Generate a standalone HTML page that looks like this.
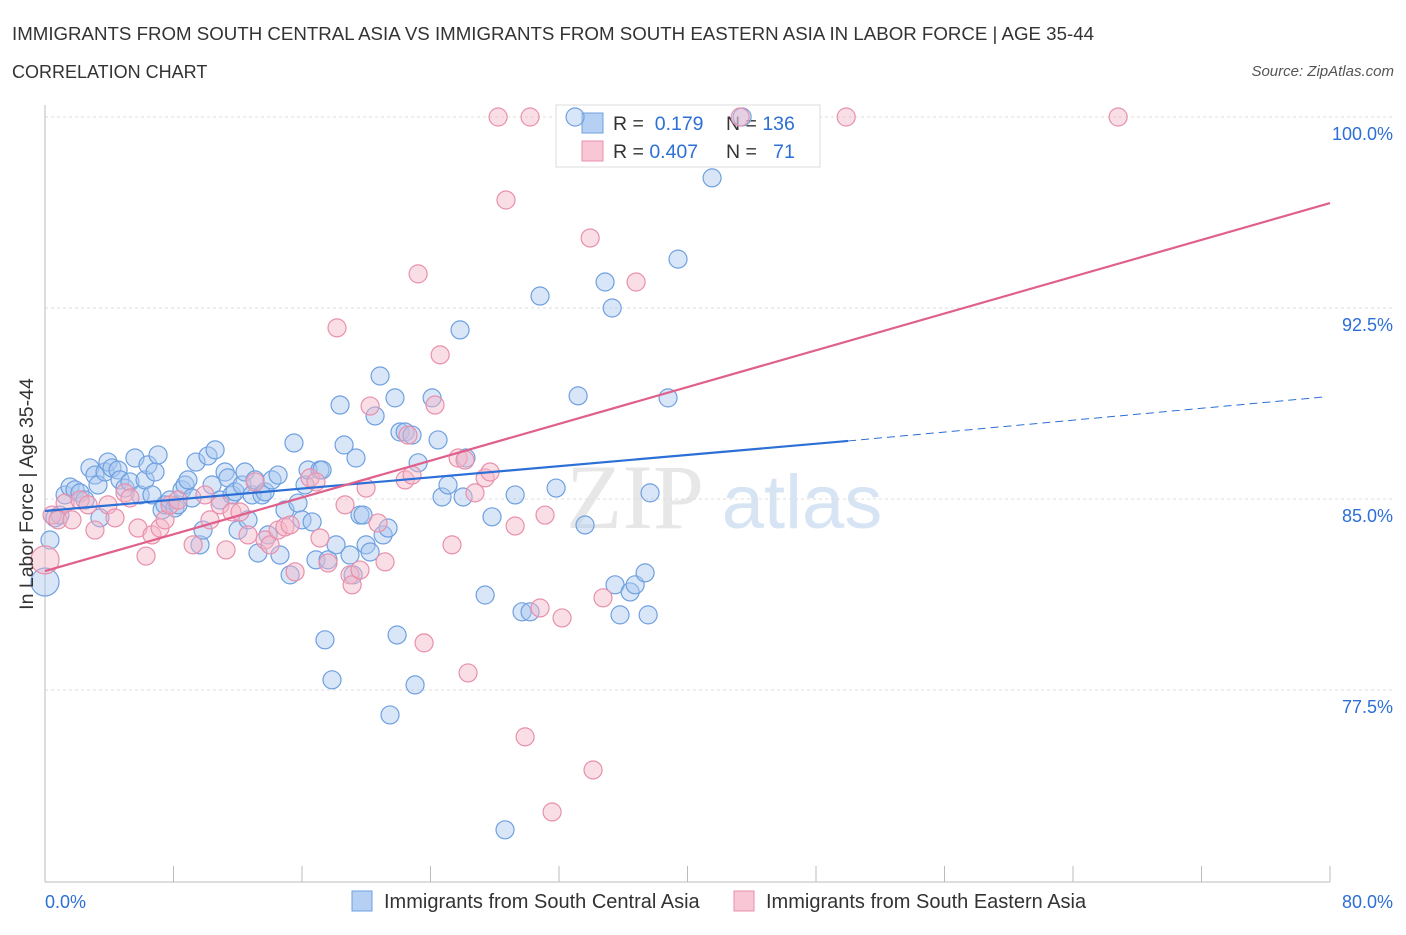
<!DOCTYPE html>
<html><head><meta charset="utf-8">
<style>
html,body{margin:0;padding:0;background:#fff;}
body{width:1406px;height:930px;overflow:hidden;font-family:"Liberation Sans",sans-serif;}
</style></head>
<body>
<svg id="chart" width="1406" height="930" xmlns="http://www.w3.org/2000/svg">
<text x="12" y="40" font-size="18.7" fill="#333">IMMIGRANTS FROM SOUTH CENTRAL ASIA VS IMMIGRANTS FROM SOUTH EASTERN ASIA IN LABOR FORCE | AGE 35-44</text>
<text x="12" y="78" font-size="18" fill="#333">CORRELATION CHART</text>
<text x="1394" y="76" font-size="15" fill="#555" font-style="italic" text-anchor="end">Source: ZipAtlas.com</text>
<g>
<text x="635" y="528" font-size="92" fill="#d8d8d8" font-family="Liberation Serif" text-anchor="middle" opacity="0.6">ZIP</text>
<text x="802" y="528" font-size="76" fill="#bcd3ee" text-anchor="middle" opacity="0.6">atlas</text>
</g>
<g id="grid"></g>
<g id="axes"></g>
<g>
<rect x="556" y="105" width="264" height="62" fill="#fff" stroke="#ddd"/>
<rect x="582" y="113" width="21" height="20" fill="#b5d0f3" stroke="#6fa0e0"/>
<rect x="582" y="141" width="21" height="20" fill="#f8c6d4" stroke="#e890ac"/>
<text x="613" y="130" font-size="19.5" fill="#333">R = <tspan fill="#2c6fd6">&#160;0.179</tspan></text>
<text x="726" y="130" font-size="19.5" fill="#333">N = <tspan fill="#2c6fd6">136</tspan></text>
<text x="613" y="158" font-size="19.5" fill="#333">R = <tspan fill="#2c6fd6">0.407</tspan></text>
<text x="726" y="158" font-size="19.5" fill="#333">N = <tspan fill="#2c6fd6">&#160;&#160;71</tspan></text>
</g>
<g id="pts"></g>
<g id="trends"></g>
<text x="33" y="494" font-size="19.5" fill="#333" text-anchor="middle" transform="rotate(-90 33 494)">In Labor Force | Age 35-44</text>
<g>
<rect x="352" y="891" width="20" height="20" fill="#b5d0f3" stroke="#6fa0e0"/>
<text x="384" y="908" font-size="20" fill="#333">Immigrants from South Central Asia</text>
<rect x="734" y="891" width="20" height="20" fill="#f8c6d4" stroke="#e890ac"/>
<text x="766" y="908" font-size="20" fill="#333">Immigrants from South Eastern Asia</text>
</g>
</svg>
<script>
const yTicks=[100,92.5,85,77.5];
const yTickLabels=["100.0%","92.5%","85.0%","77.5%"];
const xTickCount=10;
const blueX=[0,0.31,0.62,0.93,1.25,1.56,1.87,2.18,2.49,2.80,3.11,3.30,3.42,3.74,3.92,4.17,4.55,4.67,4.98,5.29,5.60,5.92,6.23,6.41,6.66,6.85,7.04,7.29,7.47,7.78,8.09,8.28,8.53,8.72,8.90,9.15,9.40,9.65,9.84,10.15,10.40,10.59,10.90,11.21,11.39,11.64,11.83,12.02,12.27,12.45,12.64,12.89,13.08,13.26,13.51,13.70,13.89,14.13,14.51,14.63,14.94,15.26,15.50,15.75,16.00,16.19,16.38,16.63,16.87,17.12,17.25,17.43,17.62,17.87,18.12,18.37,18.62,18.99,19.18,19.36,19.61,19.80,19.99,20.24,20.55,20.86,21.05,21.36,21.48,21.79,21.92,22.10,22.42,22.85,23.04,23.23,24.10,24.47,24.72,25.09,25.84,26.03,26.21,27.40,27.83,28.64,29.27,29.70,30.20,30.82,31.82,33.00,33.19,33.62,34.87,35.31,35.49,35.80,36.43,36.74,37.36,37.55,37.67,38.79,39.41,41.53,43.40];
const blueY=[81.74,83.39,84.26,84.37,85.16,85.47,85.36,85.24,84.96,86.22,85.94,85.55,84.26,86.06,86.45,86.22,86.14,85.75,85.43,85.67,86.61,85.16,85.75,86.34,85.16,86.06,86.73,84.57,84.77,84.96,84.65,84.77,85.36,85.55,85.75,85.04,86.45,83.20,83.78,86.69,85.55,86.93,84.96,86.06,85.83,85.16,85.28,83.78,85.55,86.06,84.18,85.16,85.75,82.88,85.16,85.28,83.59,85.75,85.94,82.80,84.57,82.02,87.20,84.84,84.18,85.55,86.14,84.10,82.61,86.14,86.14,79.47,82.61,77.90,83.20,88.69,87.12,82.80,82.02,86.61,84.37,84.37,83.20,82.92,88.26,89.83,83.59,83.86,76.52,88.97,79.66,87.63,87.63,87.51,77.70,86.42,88.97,87.32,85.08,85.55,91.64,85.08,86.61,81.23,84.30,72.01,85.16,80.57,80.57,92.97,85.43,100,89.05,83.98,93.52,92.50,81.63,80.45,81.35,81.63,82.10,80.45,85.24,88.97,94.42,97.61,100];
const pinkX=[0,0.44,0.81,1.25,1.68,2.18,2.68,3.11,3.92,4.36,4.98,5.29,5.79,6.29,6.66,7.16,7.47,7.78,8.28,9.22,9.96,10.27,10.90,11.27,11.64,12.14,12.64,13.08,13.70,14.01,14.51,14.94,15.26,15.57,16.50,16.87,17.12,17.62,18.18,18.68,18.99,19.12,19.61,19.99,20.24,20.73,21.17,22.42,22.60,22.85,23.23,23.60,24.28,24.60,25.34,25.72,26.15,26.34,26.77,27.40,27.71,28.21,28.70,29.27,29.89,30.20,30.82,31.13,31.57,32.19,33.94,34.12,34.74,36.80,43.28,49.88,66.81];
const pinkY=[82.61,84.37,84.18,84.84,84.18,84.96,84.77,83.78,84.77,84.26,85.24,85.04,83.86,82.76,83.59,83.86,84.18,84.77,84.96,83.20,85.16,84.18,84.77,83.00,84.49,84.49,83.59,85.67,83.39,83.20,83.78,83.90,83.98,82.14,85.83,85.67,83.47,82.49,91.72,84.77,82.02,81.63,82.21,85.43,88.65,84.06,82.53,85.75,87.51,85.94,93.84,79.35,88.69,90.66,83.20,86.61,86.53,78.17,85.24,85.83,86.06,100,96.74,83.94,75.66,100,80.72,84.37,72.71,80.33,95.25,74.36,81.12,93.52,100,100,100];
const blueTrend=[0,84.53,50,87.28,79.7,89.01];
const pinkTrend=[0,82.17,80,96.62];

const NS="http://www.w3.org/2000/svg";
const X0=45,X1=1330,Y100=117,PXPER=191/7.5;
function sx(v){return X0+v/80*(X1-X0);}
function sy(v){return Y100+(100-v)*PXPER;}
function mk(tag,attrs,parent){const e=document.createElementNS(NS,tag);for(const k in attrs)e.setAttribute(k,attrs[k]);parent.appendChild(e);return e;}
const grid=document.getElementById('grid'),axes=document.getElementById('axes');
yTicks.forEach((t,i)=>{
  const l=mk('line',{x1:X0,x2:1395,y1:sy(t),y2:sy(t),stroke:'#ddd','stroke-dasharray':'3,3'},grid);
  
  
  const tx=mk('text',{x:1393,y:sy(t)+23,'font-size':18,fill:'#2c6fd6','text-anchor':'end'},axes);
  tx.textContent=yTickLabels[i];
  
  
});
const ax=mk('line',{x1:X0,x2:X0,y1:105,y2:882,stroke:'#bbb'},axes);


const bx=mk('line',{x1:X0,x2:X1,y1:882,y2:882,stroke:'#bbb'},axes);


for(let i=0;i<=xTickCount;i++){
  const xv=i*80/xTickCount;
  const t=mk('line',{x1:sx(xv),x2:sx(xv),y1:866,y2:882,stroke:'#bbb'},axes);
  
  
}
const xl=mk('text',{x:45,y:908,'font-size':18,fill:'#2c6fd6'},axes);xl.textContent='0.0%';


const xr=mk('text',{x:1393,y:908,'font-size':18,fill:'#2c6fd6','text-anchor':'end'},axes);xr.textContent='80.0%';


const pts=document.getElementById('pts');
function drawPts(xs,ys,fill,stroke,name){
  xs.forEach((x,i)=>{
    const r=(x===0)?14:9;
    const c=mk('circle',{cx:sx(x),cy:sy(ys[i]),r:r,fill:fill,'fill-opacity':0.45,stroke:stroke,'stroke-width':1.2},pts);
    
    
  });
}
drawPts(blueX,blueY,'#a9c8f0','#6fa0e0','point-south-central');
drawPts(pinkX,pinkY,'#f4b6c8','#e890ac','point-south-eastern');
const tr=document.getElementById('trends');
const b1=mk('line',{x1:sx(blueTrend[0]),y1:sy(blueTrend[1]),x2:sx(blueTrend[2]),y2:sy(blueTrend[3]),stroke:'#2c6fd6','stroke-width':2.2},tr);


const b2=mk('line',{x1:sx(blueTrend[2]),y1:sy(blueTrend[3]),x2:sx(blueTrend[4]),y2:sy(blueTrend[5]),stroke:'#2c6fd6','stroke-width':1,'stroke-dasharray':'8,5'},tr);


const p1=mk('line',{x1:sx(pinkTrend[0]),y1:sy(pinkTrend[1]),x2:sx(pinkTrend[2]),y2:sy(pinkTrend[3]),stroke:'#e0608c','stroke-width':2.2},tr);


</script>
</body></html>
